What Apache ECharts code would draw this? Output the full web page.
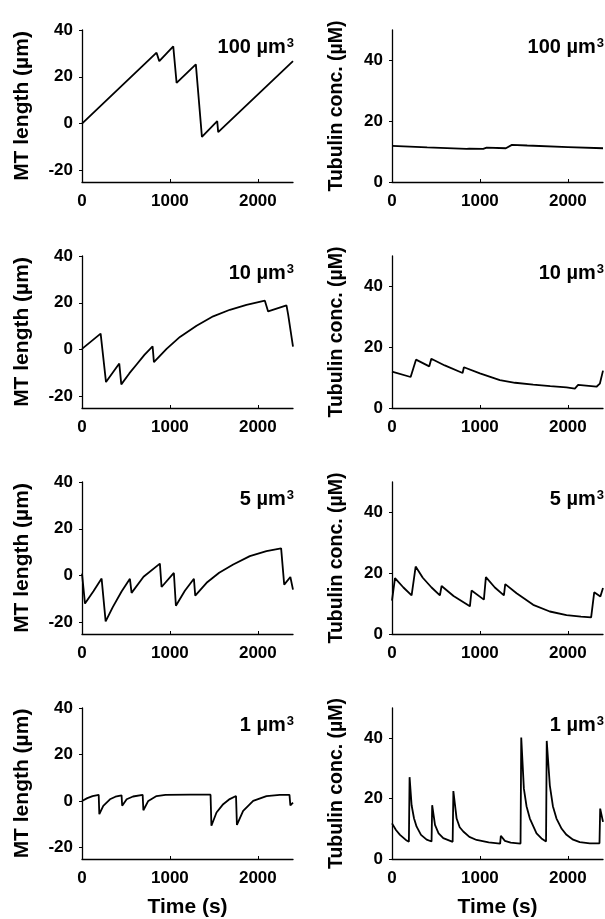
<!DOCTYPE html>
<html>
<head>
<meta charset="utf-8">
<script src="https://cdn.jsdelivr.net/npm/echarts@6/dist/echarts.min.js"></script>
<style>
html,body{margin:0;padding:0;background:#fff;}
#c{width:605px;height:919px;}
</style>
</head>
<body>
<div id="c"></div>
<script>
// ---- data (time s, value) ----
const volumes = ['100', '10', '5', '1'];
const xTicks = [0, 1000, 2000];
const lenTicks = [-20, 0, 20, 40];
const concTicks = [0, 20, 40];

const len100 = [[0,0],[848,30.3],[879,26.7],[1038,33],[1076,17.4],[1295,25.3],[1364,-5.7],[1538,1],[1549,-3.7],[2400,26.7]];
const conc100 = [[0,11.9],[400,11.4],[848,10.9],[879,11.0],[1038,10.9],[1076,11.3],[1295,11.1],[1364,12.2],[1538,12.0],[1549,12.1],[2000,11.5],[2400,11.1]];

const len10 = [[0,0.3],[212,6.8],[273,-13.9],[424,-6],[447,-14.9],[540,-10.1],[621,-6.4],[710,-2.3],[803,1.4],[818,-5.4],[962,0.3],[1114,5.4],[1303,10.2],[1492,14.2],[1682,17],[1871,19.1],[2080,20.9],[2117,16.3],[2326,18.9],[2345,14.9],[2364,14.2],[2400,1.2]];
const conc10 = [[0,12],[212,10.2],[273,15.9],[424,13.7],[447,16.2],[600,14.0],[803,11.5],[818,13.4],[1000,11.4],[1227,9.2],[1400,8.3],[1606,7.7],[1800,7.2],[1985,6.8],[2080,6.4],[2117,7.6],[2326,7.0],[2345,7.6],[2364,8.0],[2400,12.3]];

const len5 = [[0,0.8],[34,-12],[130,-6.7],[223,-1.3],[269,-19.6],[350,-13.5],[450,-6.8],[545,-1.4],[564,-7.4],[700,-0.5],[886,5.1],[905,-4.9],[1045,1.1],[1068,-12.9],[1170,-6.5],[1273,-1.4],[1288,-8.6],[1417,-3.1],[1560,1.2],[1720,4.7],[1909,8.3],[2098,10.4],[2265,11.6],[2300,-3.9],[2370,-0.6],[2400,-6]];
const conc5 = [[0,11],[34,18.4],[130,15.3],[223,12.7],[269,22.2],[350,18.5],[450,15.3],[545,12.7],[564,15.8],[700,12.5],[886,9.1],[905,14.3],[1045,11.3],[1068,18.7],[1170,15.3],[1273,12.7],[1288,16.4],[1417,13.4],[1606,9.6],[1795,7.4],[1985,6.2],[2150,5.7],[2265,5.5],[2300,13.7],[2370,12.3],[2400,15.1]];

const len1 = [[0,0],[60,1.2],[120,2.1],[190,2.6],[197,-5.7],[242,-2.1],[318,0.7],[380,1.8],[450,2.4],[457,-2.1],[508,0.7],[580,1.9],[690,2.6],[698,-4],[754,0],[848,2.1],[950,2.6],[1230,2.7],[1238,2.0],[1250,2.6],[1462,2.7],[1472,-10.7],[1530,-5],[1606,-1.4],[1680,0.8],[1752,2.1],[1762,-10.3],[1833,-4.3],[1947,0],[2098,2.1],[2250,2.6],[2360,2.6],[2370,-1.9],[2400,-0.7]];
const conc1 = [[0,11.8],[45,9.6],[91,8],[167,6.1],[192,5.7],[200,27.1],[223,17.8],[250,13.5],[280,10.7],[330,8],[394,6.4],[450,5.8],[457,17.8],[489,11.3],[530,8.5],[583,6.9],[690,5.7],[698,22.5],[735,13.4],[770,10.5],[811,9.1],[880,7.3],[962,6.3],[1100,5.5],[1230,5.1],[1238,7.7],[1284,6.0],[1350,5.4],[1462,5.1],[1470,40.2],[1500,23.3],[1530,17.5],[1568,13.4],[1644,8.5],[1700,6.8],[1752,5.8],[1760,39.1],[1795,24.4],[1830,17.5],[1871,13.4],[1930,10],[1985,8],[2060,6.4],[2136,5.6],[2250,5.2],[2360,5.2],[2368,16.7],[2400,12.3]];

const lenSeries = [len100, len10, len5, len1];
const concSeries = [conc100, conc10, conc5, conc1];

// ---- layout ----
const FONT = '"Liberation Sans", Arial, sans-serif';
const rowTops = [30, 256, 482, 708];
const gridH = 152;
const colLeft = [82, 392];
const gridW = 211;

const grid = [], xAxis = [], yAxis = [], series = [], title = [];
let gi = 0;
rowTops.forEach((top, r) => {
  [0, 1].forEach(c => {
    grid.push({left: colLeft[c], top: top, width: gridW, height: gridH, containLabel: false});
    const isLast = r === 3;
    xAxis.push({
      type: 'value', gridIndex: gi, min: 0, max: 2400,
      name: isLast ? 'Time (s)' : '', nameLocation: 'middle', nameGap: 38,
      nameTextStyle: {fontFamily: FONT, fontWeight: 'bold', fontSize: 21, color: '#000'},
      axisLine: {show: true, onZero: false, lineStyle: {color: '#000', width: 1.3}},
      axisTick: {show: true, inside: true, length: 3, customValues: xTicks, lineStyle: {color: '#000', width: 1}},
      axisLabel: {customValues: xTicks, margin: 11, formatter: v => String(v), fontFamily: FONT, fontWeight: 'bold', fontSize: 17, color: '#000'},
      splitLine: {show: false}
    });
    const isLen = c === 0;
    yAxis.push({
      type: 'value', gridIndex: gi,
      min: isLen ? -25 : 0, max: isLen ? 40 : 50,
      name: isLen ? 'MT length (µm)' : 'Tubulin conc. (µM)',
      nameLocation: 'middle', nameGap: isLen ? 49 : 45,
      nameTextStyle: {fontFamily: FONT, fontWeight: 'bold', fontSize: isLen ? 21 : 19.5, color: '#000'},
      axisLine: {show: true, onZero: false, lineStyle: {color: '#000', width: 1.3}},
      axisTick: {show: true, inside: false, length: 3, customValues: isLen ? lenTicks : concTicks, lineStyle: {color: '#000', width: 1}},
      axisLabel: {customValues: isLen ? lenTicks : concTicks, margin: 9, formatter: v => String(v), fontFamily: FONT, fontWeight: 'bold', fontSize: 17, color: '#000'},
      splitLine: {show: false}
    });
    series.push({
      type: 'line', xAxisIndex: gi, yAxisIndex: gi,
      data: isLen ? lenSeries[r] : concSeries[r],
      showSymbol: false, symbol: 'none', smooth: false,
      lineStyle: {color: '#000', width: 1.8},
      clip: true, animation: false
    });
    title.push({
      text: '{a|' + volumes[r] + ' µm}{b|3}',
      right: c === 0 ? 605 - 294 : 1, top: top + 7, padding: 0,
      textStyle: {
        rich: {
          a: {fontFamily: FONT, fontWeight: 'bold', fontSize: 20, color: '#000'},
          b: {fontFamily: FONT, fontWeight: 'bold', fontSize: 13, color: '#000', verticalAlign: 'top', padding: [0, 0, 8, 1]}
        }
      }
    });
    gi++;
  });
});

const chart = echarts.init(document.getElementById('c'), null, {renderer: 'canvas'});
chart.setOption({
  animation: false,
  backgroundColor: '#fff',
  title, grid, xAxis, yAxis, series
});
</script>
</body>
</html>
